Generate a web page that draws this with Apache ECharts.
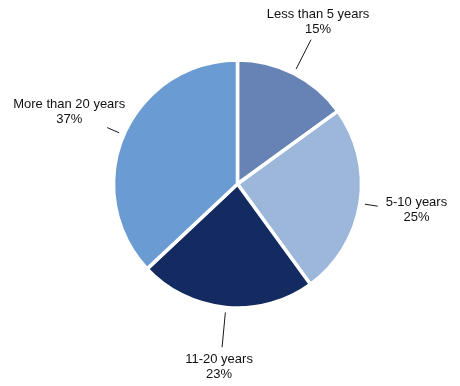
<!DOCTYPE html>
<html>
<head>
<meta charset="utf-8">
<script src="https://cdn.jsdelivr.net/npm/echarts@6/dist/echarts.min.js"></script>
<style>
html,body{margin:0;padding:0;background:#fff;}
#chart{width:460px;height:386px;}
</style>
</head>
<body>
<div id="chart"></div>
<script>
// Data
const categories = ['Less than 5 years', '5-10 years', '11-20 years', 'More than 20 years'];
const values = [15, 25, 23, 37];

// Styling
const colors = ['#6783b5', '#9db7db', '#142b61', '#6a9bd2'];
const lineLengths = [38, 18, 40, 18];
const labelPlace = [
  { side: 'center', vAlign: 'bottom', dx: 7, dy: -3 },
  { side: 'right', vAlign: 'top', dx: 8, dy: -11 },
  { side: 'center', vAlign: 'top', dx: -3, dy: 5 },
  { side: 'leftover', vAlign: 'bottom', dx: -38, dy: -1 }
];
const lineGap = 5;

const chart = echarts.init(document.getElementById('chart'), null, { renderer: 'canvas' });

const data = categories.map((name, i) => ({
  name: name,
  value: values[i],
  itemStyle: { color: colors[i] },
  labelLine: { length: lineLengths[i], length2: 0 }
}));

chart.setOption({
  backgroundColor: '#ffffff',
  animation: false,
  series: [{
    type: 'pie',
    center: [237.5, 184],
    radius: [0, 124],
    startAngle: 90,
    clockwise: true,
    avoidLabelOverlap: false,
    data: data,
    itemStyle: { borderColor: '#ffffff', borderWidth: 3.5 },
    label: {
      show: true,
      position: 'outside',
      formatter: p => p.name + '\n' + p.value + '%',
      fontFamily: '"Liberation Sans", Arial, Helvetica, sans-serif',
      fontSize: 13,
      lineHeight: 15,
      color: '#111111'
    },
    labelLine: {
      show: true,
      lineStyle: { color: '#1a1a1a', width: 1 }
    },
    emphasis: { disabled: true },
    labelLayout: function (p) {
      const pts = p.labelLinePoints.map(pt => pt.slice());
      const s = pts[0], e = pts[pts.length - 1];
      const vx = e[0] - s[0], vy = e[1] - s[1];
      const len = Math.sqrt(vx * vx + vy * vy) || 1;
      pts[0] = [s[0] + vx / len * lineGap, s[1] + vy / len * lineGap];
      const lp = labelPlace[p.dataIndex];
      let x = e[0] + lp.dx;
      if (lp.side === 'right') x = e[0] + lp.dx + p.labelRect.width / 2;
      return {
        x: x,
        y: e[1] + lp.dy,
        align: 'center',
        verticalAlign: lp.vAlign,
        labelLinePoints: pts
      };
    }
  }]
});
</script>
</body>
</html>
